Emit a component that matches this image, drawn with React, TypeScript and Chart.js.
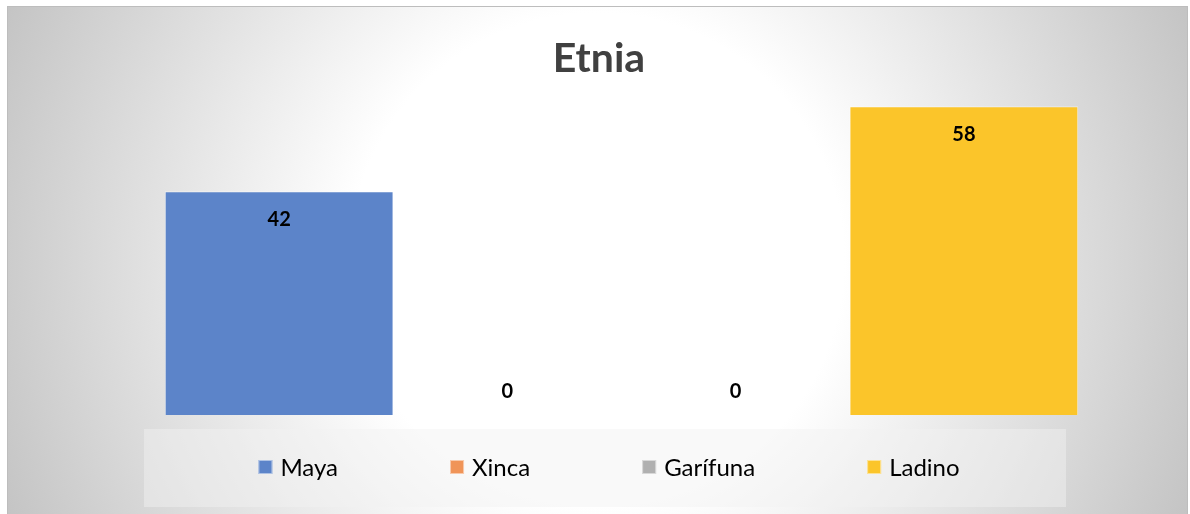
import React, { useEffect, useRef } from "react";
import { Chart, registerables } from "chart.js";

Chart.register(...registerables);

const TITLE = "Etnia";
const categories = ["Maya", "Xinca", "Garífuna", "Ladino"];
const values = [42, 0, 0, 58];
const colors = ["#5c84c9", "#f09458", "#b0b0b0", "#fbc52a"];
const yMax = 60;

const FONT = "Lato, 'Open Sans', sans-serif";

const backgroundPlugin = {
  id: "bgPlugin",
  beforeDraw(chart: any) {
    const { ctx, width, height } = chart;
    ctx.save();
    ctx.fillStyle = "#ffffff";
    ctx.fillRect(0, 0, width, height);
    const fx = 7, fy = 6, fw = 1181, fh = height + 10;
    const g = ctx.createRadialGradient(597, 260, 0, 597, 260, 650);
    g.addColorStop(0, "#ffffff");
    g.addColorStop(0.38, "#ffffff");
    g.addColorStop(1, "#c3c3c3");
    ctx.fillStyle = g;
    ctx.fillRect(fx, fy, fw, fh);
    ctx.strokeStyle = "#bdbdbd";
    ctx.lineWidth = 1;
    ctx.strokeRect(fx + 0.5, fy + 0.5, fw - 1, fh);
    // legend panel
    ctx.fillStyle = "rgba(242,242,242,0.46)";
    ctx.fillRect(144, 429, 922, 78);
    // title
    ctx.font = `bold 41px ${FONT}`;
    ctx.fillStyle = "#404040";
    ctx.textAlign = "center";
    ctx.textBaseline = "alphabetic";
    ctx.fillText(chart.options.plugins.customTitle.text, 599, 72);
    ctx.restore();
  },
};

const labelPlugin = {
  id: "valueLabels",
  afterDatasetsDraw(chart: any) {
    const { ctx } = chart;
    ctx.save();
    ctx.font = `bold 20px ${FONT}`;
    ctx.fillStyle = "#000000";
    ctx.textAlign = "center";
    ctx.textBaseline = "middle";
    chart.data.datasets.forEach((ds: any, di: number) => {
      const meta = chart.getDatasetMeta(di);
      ds.data.forEach((v: any, i: number) => {
        if (v === null || v === undefined) return;
        const el: any = meta.data[i];
        if (!el) return;
        const y = v > 0 ? el.y + 28 : el.base - 23;
        ctx.fillText(String(v), el.x, y);
      });
    });
    ctx.restore();
  },
};

const legendPlugin = {
  id: "customLegend",
  afterDraw(chart: any) {
    const { ctx } = chart;
    ctx.save();
    ctx.font = `24px ${FONT}`;
    ctx.textBaseline = "middle";
    ctx.textAlign = "left";
    const box = 14, gapText = 8, gapItem = 112;
    const items = chart.data.datasets.map((ds: any) => ({
      text: ds.label,
      color: ds.legendColor,
      w: box + gapText + ctx.measureText(ds.label).width,
    }));
    const total = items.reduce((s: number, it: any) => s + it.w, 0) + gapItem * (items.length - 1);
    let x = 609 - total / 2;
    const cy = 467;
    items.forEach((it: any) => {
      ctx.fillStyle = it.color;
      ctx.fillRect(x, cy - box / 2, box, box);
      ctx.strokeStyle = "rgba(255,255,255,0.5)";
      ctx.lineWidth = 1;
      ctx.strokeRect(x + 0.5, cy - box / 2 + 0.5, box - 1, box - 1);
      ctx.fillStyle = "#000000";
      ctx.fillText(it.text, x + box + gapText, cy + 1);
      x += it.w + gapItem;
    });
    ctx.restore();
  },
};

export default function App() {
  const ref = useRef<HTMLCanvasElement | null>(null);
  useEffect(() => {
    document.body.style.margin = "0";
    if (!ref.current) return;
    const datasets = categories.map((cat, i) => ({
      label: cat,
      data: categories.map((_, j) => (j === i ? values[i] : null)),
      legendColor: colors[i],
      backgroundColor: (c: any) => (c.raw ? colors[i] : "rgba(0,0,0,0)"),
      borderColor: "rgba(255,255,255,0.45)",
      borderWidth: values[i] > 0 ? 1 : 0,
      barPercentage: 1,
      categoryPercentage: 1,
    }));
    const chart = new Chart(ref.current, {
      type: "bar",
      data: { labels: categories, datasets },
      options: {
        responsive: false,
        animation: false,
        skipNull: true,
        layout: { padding: { left: 165, right: 112, top: 96, bottom: 99 } },
        scales: {
          x: { display: false, stacked: false },
          y: { display: false, min: 0, max: yMax },
        },
        plugins: {
          legend: { display: false },
          tooltip: { enabled: false },
          title: { display: false },
          customTitle: { text: TITLE },
        },
      } as any,
      plugins: [backgroundPlugin, labelPlugin, legendPlugin],
    });
    return () => chart.destroy();
  }, []);
  return <canvas ref={ref} width={1190} height={514} style={{ display: "block" }} />;
}
